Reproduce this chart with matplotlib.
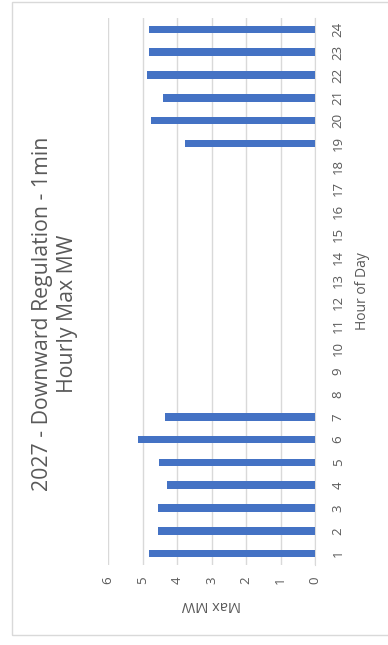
import matplotlib
matplotlib.use("Agg")
import matplotlib.pyplot as plt
from matplotlib.patches import Rectangle

hours = list(range(1, 25))
max_mw = [4.82, 4.56, 4.56, 4.28, 4.51, 5.12, 4.34,
          0, 0, 0, 0, 0, 0, 0, 0, 0, 0, 0,
          3.77, 4.75, 4.42, 4.86, 4.81, 4.81]
value_ticks = [0, 1, 2, 3, 4, 5, 6]

title = "2027 - Downward Regulation - 1min\nHourly Max MW"
x_title = "Hour of Day"
y_title = "Max MW"

txt = "#595959"
grid_col = "#d9d9d9"
bar_col = "#4472C4"
plt.rcParams['font.family'] = ['Open Sans', 'DejaVu Sans']

W, H = 388, 645
fig = plt.figure(figsize=(W / 100, H / 100), dpi=100)

# chart area border
fig.patches.append(Rectangle((12 / W, 10 / H), 1.0, 1.0 - 10 / H - 1.5 / H,
                             transform=fig.transFigure, fill=False,
                             edgecolor=grid_col, lw=1.0))

ax = fig.add_axes([108 / W, 1 - 565 / H, (315 - 108) / W, (565 - 18) / H])
ax.barh(hours, max_mw, height=0.33, color=bar_col, zorder=3)
ax.set_xlim(6, 0)
ax.set_ylim(0.5, 24.5)

ax.set_xticks(value_ticks)
ax.set_xticklabels([str(v) for v in value_ticks], rotation=90, color=txt, fontsize=9.5)
ax.set_yticks(hours)
ax.set_yticklabels([str(h) for h in hours], rotation=90, color=txt, fontsize=9.5,
                   va="center")
ax.yaxis.tick_right()
ax.tick_params(axis="x", length=0, pad=8)
ax.tick_params(axis="y", length=0, pad=12)

ax.grid(axis="x", color=grid_col, lw=1.0, zorder=0)
for s in ["top", "bottom", "left"]:
    ax.spines[s].set_visible(False)
ax.spines["right"].set_color(grid_col)

ax.set_xlabel(y_title, rotation=180, color=txt, fontsize=10.5, va="center")
ax.xaxis.set_label_coords(0.5, -0.073)
ax.yaxis.set_label_position("right")
ax.set_ylabel(x_title, rotation=90, color=txt, fontsize=10, va="center")
ax.yaxis.set_label_coords((362 - 108) / 207, 0.5)

fig.text(55 / W, 1 - 314 / H, title, rotation=90, ha="center", va="center",
         multialignment="center", color=txt, fontsize=15.3, linespacing=1.2)

fig.savefig("out.png", dpi=100)
